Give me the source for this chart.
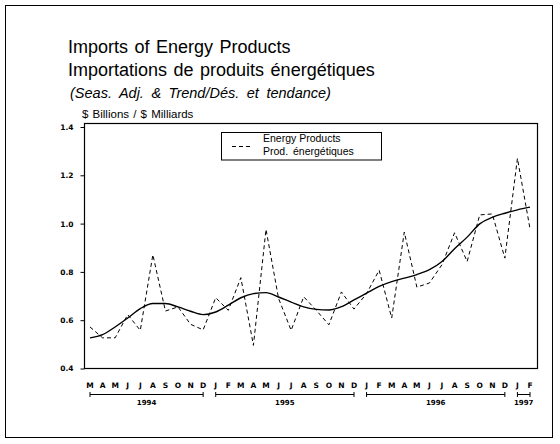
<!DOCTYPE html>
<html>
<head>
<meta charset="utf-8">
<script src="https://cdn.jsdelivr.net/npm/d3@7"></script>
<style>
  body { margin: 0; background: #fff; }
  text { font-family: 'Liberation Sans', Arial, sans-serif; }
</style>
</head>
<body>
<div id="chart"></div>
<script>
// months Mar 1994 .. Feb 1997
const months = ['M', 'A', 'M', 'J', 'J', 'A', 'S', 'O', 'N', 'D',
  'J', 'F', 'M', 'A', 'M', 'J', 'J', 'A', 'S', 'O', 'N', 'D',
  'J', 'F', 'M', 'A', 'M', 'J', 'J', 'A', 'S', 'O', 'N', 'D',
  'J', 'F'];

// seasonally adjusted, $ billions
const energy = [0.572, 0.527, 0.527, 0.623, 0.558, 0.871, 0.638, 0.655, 0.583, 0.560,
  0.693, 0.641, 0.776, 0.496, 0.976, 0.690, 0.558, 0.697, 0.641, 0.581, 0.717, 0.646,
  0.710, 0.807, 0.609, 0.965, 0.737, 0.754, 0.830, 0.962, 0.843, 1.036, 1.040, 0.857,
  1.270, 0.979];

// trend
const trend = [0.527, 0.540, 0.572, 0.609, 0.648, 0.669, 0.669, 0.655, 0.637, 0.623,
  0.634, 0.662, 0.693, 0.710, 0.714, 0.696, 0.675, 0.655, 0.645, 0.642, 0.656, 0.684,
  0.712, 0.740, 0.760, 0.774, 0.789, 0.809, 0.843, 0.896, 0.944, 0.999, 1.026, 1.043,
  1.057, 1.068];

const yTicks = [0.4, 0.6, 0.8, 1.0, 1.2, 1.4];

const yearLabels = ['1994', '1995', '1996', '1997'];
const yearStart = [0, 10, 22, 34];
const yearEnd = [9, 21, 33, 35];

const width = 560;
const height = 444;
const frame = { left: 84.5, top: 123.5, right: 537.5, bottom: 368.5 };

const svg = d3
  .select('#chart')
  .append('svg')
  .attr('width', width)
  .attr('height', height);

// outer border
svg
  .append('rect')
  .attr('x', 5.5)
  .attr('y', 5.5)
  .attr('width', 547)
  .attr('height', 432)
  .attr('fill', 'none')
  .attr('stroke', '#000')
  .attr('stroke-width', 1);

// titles
svg
  .append('text')
  .text('Imports of Energy Products')
  .attr('x', 68)
  .attr('y', 53)
  .style('font-size', '18px')
  .style('word-spacing', '1.5px');

svg
  .append('text')
  .text('Importations de produits énergétiques')
  .attr('x', 68)
  .attr('y', 75.5)
  .style('font-size', '18px')
  .style('word-spacing', '1.5px');

svg
  .append('text')
  .text('(Seas. Adj. & Trend/Dés. et tendance)')
  .attr('x', 70)
  .attr('y', 97.5)
  .style('font-size', '14.5px')
  .style('font-style', 'italic')
  .style('word-spacing', '3.5px');

svg
  .append('text')
  .text('$ Billions / $ Milliards')
  .attr('x', 82)
  .attr('y', 118)
  .style('font-size', '11.5px')
  .style('word-spacing', '1px');

const x = d3
  .scaleLinear()
  .domain([0, months.length - 1])
  .range([90, 530]);

const y = d3
  .scaleLinear()
  .domain([0.4, 1.4])
  .range([frame.bottom, 127]);

// plot frame
svg
  .append('rect')
  .attr('x', frame.left)
  .attr('y', frame.top)
  .attr('width', frame.right - frame.left)
  .attr('height', frame.bottom - frame.top)
  .attr('fill', 'none')
  .attr('stroke', '#000')
  .attr('stroke-width', 1.2);

const yAxis = svg
  .append('g')
  .attr('transform', `translate(${frame.left},0)`)
  .call(
    d3
      .axisLeft(y)
      .tickValues(yTicks)
      .tickSize(4)
      .tickPadding(7)
      .tickFormat(d3.format('.1f'))
  );

yAxis.select('.domain').remove();
yAxis
  .selectAll('text')
  .style('font-family', "'DejaVu Sans', sans-serif")
  .style('font-weight', 'bold')
  .style('font-size', '7.5px')
  .attr('fill', '#000');

// month letters
svg
  .selectAll('.month')
  .data(months)
  .enter()
  .append('text')
  .attr('class', 'month')
  .text((d) => d)
  .attr('x', (d, i) => x(i))
  .attr('y', 387.5)
  .attr('text-anchor', 'middle')
  .style('font-family', "'DejaVu Sans', sans-serif")
  .style('font-weight', 'bold')
  .style('font-size', '7.5px');

// year brackets
const years = svg
  .selectAll('.year')
  .data(yearLabels)
  .enter()
  .append('g')
  .attr('class', 'year');

years
  .append('line')
  .attr('x1', (d, i) => x(yearStart[i]))
  .attr('x2', (d, i) => x(yearEnd[i]))
  .attr('y1', 394.5)
  .attr('y2', 394.5)
  .attr('stroke', '#000');

years
  .append('line')
  .attr('x1', (d, i) => x(yearStart[i]))
  .attr('x2', (d, i) => x(yearStart[i]))
  .attr('y1', 392)
  .attr('y2', 397)
  .attr('stroke', '#000');

years
  .append('line')
  .attr('x1', (d, i) => x(yearEnd[i]))
  .attr('x2', (d, i) => x(yearEnd[i]))
  .attr('y1', 392)
  .attr('y2', 397)
  .attr('stroke', '#000');

years
  .append('text')
  .text((d) => d)
  .attr('x', (d, i) => (x(yearStart[i]) + x(yearEnd[i])) / 2)
  .attr('y', 404.5)
  .attr('text-anchor', 'middle')
  .style('font-family', "'DejaVu Sans', sans-serif")
  .style('font-weight', 'bold')
  .style('font-size', '7px');

// series
const line = d3
  .line()
  .x((d, i) => x(i))
  .y((d) => y(d));

svg
  .append('path')
  .datum(energy)
  .attr('d', line)
  .attr('fill', 'none')
  .attr('stroke', '#000')
  .attr('stroke-width', 1)
  .attr('stroke-dasharray', '4,3');

svg
  .append('path')
  .datum(trend)
  .attr('d', line.curve(d3.curveMonotoneX))
  .attr('fill', 'none')
  .attr('stroke', '#000')
  .attr('stroke-width', 1.4);

// legend
const legend = svg.append('g');

legend
  .append('rect')
  .attr('x', 221.5)
  .attr('y', 132.5)
  .attr('width', 160)
  .attr('height', 27.5)
  .attr('fill', '#fff')
  .attr('stroke', '#000');

legend
  .append('line')
  .attr('x1', 232)
  .attr('x2', 251)
  .attr('y1', 146.5)
  .attr('y2', 146.5)
  .attr('stroke', '#000')
  .attr('stroke-dasharray', '4,3');

legend
  .append('text')
  .text('Energy Products')
  .attr('x', 263)
  .attr('y', 142)
  .style('font-size', '10.5px');

legend
  .append('text')
  .text('Prod. énergétiques')
  .attr('x', 263)
  .attr('y', 154.5)
  .style('font-size', '10.5px')
  .style('word-spacing', '2px');
</script>
</body>
</html>
